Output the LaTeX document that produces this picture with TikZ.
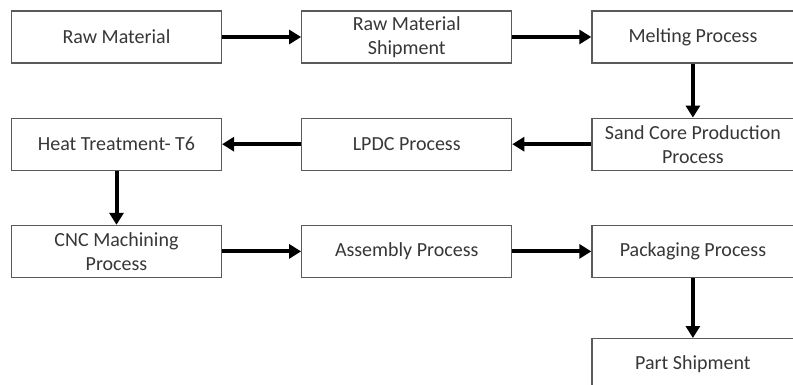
\documentclass[tikz,border=0pt]{standalone}
\usepackage{fontspec}
\setmainfont{Carlito}
\usepackage{xcolor}
\usepackage{tikz}
\usetikzlibrary{positioning,arrows.meta}
\definecolor{boxline}{RGB}{90,90,90}
\definecolor{boxtext}{RGB}{55,55,55}
\tikzset{
  stage/.style={rectangle, draw=boxline, line width=0.6pt, fill=white,
                minimum width=105pt, minimum height=26pt, inner sep=1pt,
                align=center, text=boxtext, font=\fontsize{10}{12}\selectfont},
  laststage/.style={stage, minimum width=101pt},
  flow/.style={-{Triangle[length=6pt, width=7pt]}, line width=2pt, black}
}
\begin{document}
\begin{tikzpicture}[x=0.5pt, y=-0.5pt, node distance=27pt and 39.5pt]
        \useasboundingbox (0,0) rectangle (793,385);
        % first row
        \node[stage] (raw) at (116.5,37) {Raw Material};
        \node[stage, right=of raw] (ship) {Raw Material\\Shipment};
        \node[laststage, right=of ship] (melt) {Melting Process};
        % second row
        \node[laststage, below=of melt] (sand) {Sand Core Production\\Process};
        \node[stage, below=of ship] (lpdc) {LPDC Process};
        \node[stage, below=of raw] (heat) {Heat Treatment- T6};
        % third row
        \node[stage, below=of heat] (cnc) {CNC Machining\\Process};
        \node[stage, below=of lpdc] (asm) {Assembly Process};
        \node[laststage, below=of sand] (pack) {Packaging Process};
        \node[laststage, below=30pt of pack] (part) {Part Shipment};
        \draw[flow] (raw) -- (ship); \draw[flow] (ship) -- (melt);
        \draw[flow] (melt) -- (sand); \draw[flow] (sand) -- (lpdc);
        \draw[flow] (lpdc) -- (heat); \draw[flow] (heat) -- (cnc);
        \draw[flow] (cnc) -- (asm); \draw[flow] (asm) -- (pack);
        \draw[flow] (pack) -- (part);
      \end{tikzpicture}
\end{document}
